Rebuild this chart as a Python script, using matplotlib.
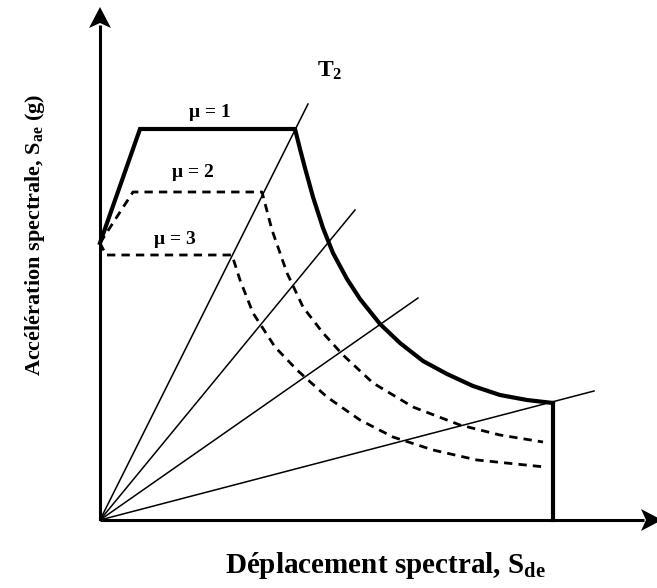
import numpy as np
import matplotlib
matplotlib.use("Agg")
import matplotlib.pyplot as plt

# Spectre élastique (mu = 1) et spectres inélastiques (mu = 2, 3), format ADRS
mu1_x = [0, 40, 195, 200, 205, 213, 223, 233, 247, 260, 280, 300, 323, 347, 373, 400, 427, 453]
mu1_y = [277, 391, 391, 371, 352, 323, 292, 267, 241, 221, 196, 177, 159, 146, 134, 125, 120, 117]

mu2_x = [0, 33, 162, 172, 187, 203, 223, 243, 273, 313, 360, 400, 443]
mu2_y = [277, 328, 328, 290, 247, 213, 187, 165, 137, 113, 95, 85, 78]

mu3_x = [0, 6, 132, 140, 153, 175, 197, 227, 260, 293, 333, 377, 445]
mu3_y = [277, 265, 265, 240, 207, 173, 150, 123, 100, 83, 70, 60, 53]

# droites de période constante (depuis l'origine)
ray_x_end = [208, 255, 318, 494]
ray_y_end = [416, 310, 222, 129]

mu_labels = ["μ = 1", "μ = 2", "μ = 3"]

plt.rcParams['mathtext.fontset'] = 'custom'
plt.rcParams['mathtext.rm'] = 'Liberation Serif'
plt.rcParams['mathtext.bf'] = 'Liberation Serif:bold'
plt.rcParams['mathtext.it'] = 'Liberation Serif:italic'

fig = plt.figure(figsize=(6.57, 5.88), dpi=100)
ax = fig.add_axes([0, 0, 1, 1])
ax.set_xlim(-100, 557)
ax.set_ylim(-68, 520)
ax.axis('off')

# axes avec flèches
x_end, y_end = 562, 513
ax.plot([0, 0], [0, y_end - 18], color='black', lw=2.2, solid_capstyle='butt')
ax.plot([0, x_end - 18], [0, 0], color='black', lw=2.2, solid_capstyle='butt')
ax.fill([0, -11, 0, 11], [y_end, y_end - 21, y_end - 16, y_end - 21], color='black', lw=0)
ax.fill([x_end, x_end - 21, x_end - 16, x_end - 21], [0, -11, 0, 11], color='black', lw=0)

# droites de période
for xe, ye in zip(ray_x_end, ray_y_end):
    ax.plot([0, xe], [0, ye], color='black', lw=1.1)

# spectres
ax.plot(mu1_x, mu1_y, color='black', lw=3.0, solid_joinstyle='miter')
ax.plot([mu1_x[-1], mu1_x[-1]], [0, mu1_y[-1]], color='black', lw=3.0)
ax.plot(mu2_x, mu2_y, color='black', lw=2.0, dashes=(3, 2.2))
ax.plot(mu3_x, mu3_y, color='black', lw=2.0, dashes=(3, 2.2))

serif = 'Liberation Serif'
ax.text(110, 403, mu_labels[0], family=serif, weight='bold', fontsize=14, ha='center', va='baseline')
ax.text(93, 343, mu_labels[1], family=serif, weight='bold', fontsize=14, ha='center', va='baseline')
ax.text(75, 276, mu_labels[2], family=serif, weight='bold', fontsize=14, ha='center', va='baseline')
ax.text(217, 443, r"$\mathbf{T_2}$", fontsize=17, ha='left', va='baseline')

ax.text(285, -53, r"Déplacement spectral, $\mathbf{S_{de}}$", family=serif, weight='bold',
        fontsize=21, ha='center', va='baseline')
ax.text(-65, 285, r"Accélération spectrale, $\mathbf{S_{ae}}$ (g)", family=serif, weight='bold',
        fontsize=16, ha='center', va='center', rotation=90)

fig.savefig("out.png", dpi=100)
